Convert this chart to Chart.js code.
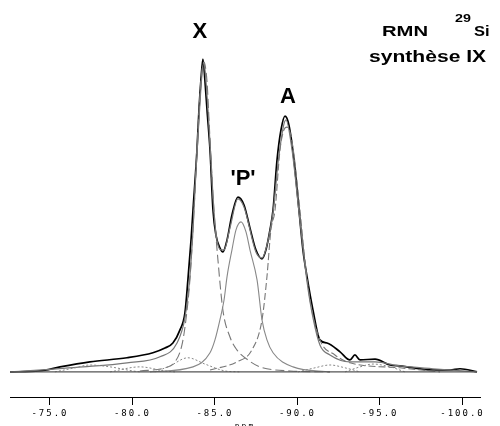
<!DOCTYPE html>
<html>
<head>
<meta charset="utf-8">
<script src="https://cdn.jsdelivr.net/npm/chart.js@4/dist/chart.umd.min.js"></script>
<style>
  body { margin: 0; background: #fff; }
  canvas { display: block; }
</style>
</head>
<body>
<canvas id="nmr" width="500" height="426"></canvas>
<script>
// chemical shift (ppm) / intensity pairs
const experimental = [
    [-72.58, 0], [-74.39, 0.3], [-75.61, 1.6], [-77.42, 3.2], [-79.67, 4.5], [-81.24, 6.1],
    [-81.97, 7.6], [-82.45, 9.2], [-82.88, 13.4], [-83.18, 18.8], [-83.36, 29.3], [-83.55, 42.0],
    [-83.67, 51.6], [-83.91, 70.7], [-84.03, 83.4], [-84.15, 93.0], [-84.27, 99.7], [-84.39, 93.0],
    [-84.52, 83.4], [-84.70, 70.7], [-84.88, 51.6], [-85.06, 43.6], [-85.30, 39.5], [-85.48, 38.2],
    [-85.73, 42.0], [-86.03, 50.0], [-86.39, 55.7], [-86.76, 53.2], [-87.12, 45.9], [-87.48, 38.9],
    [-87.85, 36.0], [-88.09, 38.9], [-88.33, 45.2], [-88.52, 51.6], [-88.76, 67.5], [-89.00, 77.1],
    [-89.24, 81.5], [-89.48, 78.7], [-89.79, 67.5], [-90.09, 51.6], [-90.33, 38.9], [-90.58, 30.3],
    [-90.94, 19.7], [-91.36, 10.2], [-91.79, 9.2], [-92.58, 6.4], [-93.18, 3.8], [-93.48, 5.4],
    [-93.79, 3.8], [-94.70, 4.1], [-95.61, 2.2], [-96.21, 1.9], [-98.21, 0.6], [-99.24, 0.6],
    [-99.85, 1.0], [-100.88, 0]
];
const fitSum = [
    [-72.58, 0], [-77.00, 1.6], [-79.67, 2.9], [-81.67, 4.8], [-82.70, 9.2], [-83.18, 17.2],
    [-83.48, 30.3], [-83.67, 45.2], [-83.85, 64.3], [-84.03, 80.3], [-84.21, 94.6], [-84.33, 98.7],
    [-84.45, 93.0], [-84.58, 83.4], [-84.76, 67.5], [-84.94, 51.0], [-85.12, 42.0], [-85.36, 38.9],
    [-85.55, 38.9], [-85.91, 45.9], [-86.39, 55.1], [-86.76, 52.5], [-87.48, 38.2], [-87.85, 36.3],
    [-88.15, 40.4], [-88.52, 51.0], [-88.88, 69.1], [-89.30, 80.3], [-89.67, 70.7], [-90.09, 51.0],
    [-90.58, 28.7], [-90.94, 17.2], [-91.36, 8.6], [-91.97, 5.4], [-93.18, 3.2], [-94.70, 3.2],
    [-96.21, 1.9], [-98.21, 1.0], [-100.88, 0]
];
const peakX = [
    [-80.45, 0.3], [-81.97, 1.3], [-82.58, 3.2], [-83.00, 8.6], [-83.24, 16.6], [-83.48, 29.3],
    [-83.73, 51.6], [-83.97, 77.1], [-84.15, 93.0], [-84.33, 98.7], [-84.52, 92.4], [-84.64, 80.3],
    [-84.76, 67.5], [-84.94, 51.6], [-85.18, 35.7], [-85.48, 19.7], [-85.91, 11.1], [-86.33, 7.0],
    [-87.00, 3.8], [-87.73, 1.6], [-89.55, 0.3], [-91.97, 0]
];
const peakP = [
    [-81.06, 0], [-83.67, 1.6], [-84.70, 6.1], [-85.00, 10.2], [-85.30, 16.6], [-85.55, 22.9],
    [-85.73, 30.3], [-86.03, 38.9], [-86.27, 45.2], [-86.58, 47.8], [-86.88, 44.6], [-87.12, 38.9],
    [-87.55, 29.3], [-87.85, 16.6], [-88.15, 10.2], [-88.52, 6.1], [-89.73, 1.6], [-91.97, 0]
];
const peakA = [
    [-84.70, 0.6], [-86.33, 3.2], [-87.24, 7.0], [-87.85, 16.6], [-88.15, 30.3], [-88.39, 45.2],
    [-88.64, 51.6], [-88.94, 70.7], [-89.18, 77.1], [-89.36, 78.0], [-89.55, 76.4], [-89.79, 69.1],
    [-90.15, 51.6], [-90.45, 35.7], [-90.76, 22.9], [-91.36, 10.2], [-92.27, 5.4], [-93.18, 2.9],
    [-96.21, 1.3], [-98.64, 0]
];
const smallPeaks = [
    [[-75.30, 0], [-76.52, 1.3], [-77.42, 2.2], [-78.64, 1.6], [-80.03, 0.3], [-80.45, 0]],
    [[-78.64, 0], [-80.45, 1.6], [-81.97, 0.3], [-82.58, 0]],
    [[-81.36, 0], [-82.27, 1.9], [-83.36, 4.5], [-84.39, 2.5], [-85.61, 0.3], [-86.52, 0]],
    [[-90.03, 0], [-91.06, 1.3], [-91.97, 2.2], [-92.88, 1.3], [-93.79, 0]],
    [[-92.88, 0], [-93.79, 1.6], [-94.58, 2.5], [-95.61, 1.6], [-96.52, 0]]
];
const baseline = [[-72.58, 0], [-100.88, 0]];

const tickValues = [-75, -80, -85, -90, -95, -100];
const peakLabels = ['X', "'P'", 'A'];
const peakLabelAt = [[-84.09, 106.4], [-86.70, 59.6], [-89.42, 85.7]];

const toXY = pts => pts.map(p => ({ x: p[0], y: p[1] }));

function line(data, color, width, dash) {
    return {
        data: toXY(data),
        showLine: true,
        borderColor: color,
        borderWidth: width,
        borderDash: dash || [],
        pointRadius: 0,
        cubicInterpolationMode: 'monotone',
        fill: false
    };
}

const datasets = [
    line(baseline, '#555', 1.2),
    ...smallPeaks.map(p => line(p, '#888', 1, [2, 2])),
    line(peakP, '#888', 1.1),
    line(peakX, '#777', 1.1, [9, 4]),
    line(peakA, '#777', 1.1, [7, 3]),
    line(fitSum, '#777', 1.2),
    line(experimental, '#000', 1.7)
];

// wide bold text, stretched sideways like the original plot
function wideText(ctx, text, x, y, sx) {
    ctx.save();
    ctx.translate(x, y);
    ctx.scale(sx, 1);
    ctx.fillText(text, 0, 0);
    ctx.restore();
}

// spaced dot-matrix style tick labels, then the labels on the plot
const textPlugin = {
    id: 'texts',
    beforeDraw(chart) {
        chart.ctx.letterSpacing = '2px';
    },
    afterDraw(chart) {
        const ctx = chart.ctx;
        const xs = chart.scales.x, ys = chart.scales.y;
        ctx.save();
        ctx.fillStyle = '#000';
        ctx.textBaseline = 'alphabetic';
        ctx.letterSpacing = '0px';
        ctx.textAlign = 'center';
        ctx.font = 'bold 22px "Liberation Sans"';
        peakLabels.forEach((t, i) => {
            ctx.fillText(t, xs.getPixelForValue(peakLabelAt[i][0]), ys.getPixelForValue(peakLabelAt[i][1]));
        });

        ctx.textAlign = 'left';
        ctx.font = 'bold 15px "Liberation Sans"';
        wideText(ctx, 'RMN', 382, 36, 1.35);
        wideText(ctx, 'Si', 474, 36, 1.1);
        ctx.font = 'bold 11px "Liberation Sans"';
        wideText(ctx, '29', 455, 22, 1.3);
        ctx.font = 'bold 17px "Liberation Sans"';
        wideText(ctx, 'synthèse IX', 369, 62, 1.24);

        ctx.font = '8px "DejaVu Sans Mono"';
        ctx.letterSpacing = '2px';
        ctx.textAlign = 'center';
        ctx.textBaseline = 'top';
        ctx.fillText('ppm', 245, 423);
        ctx.restore();
    }
};

new Chart(document.getElementById('nmr'), {
    type: 'scatter',
    data: { datasets: datasets },
    options: {
        responsive: false,
        animation: false,
        layout: { padding: { left: 10, right: 20, top: 0, bottom: 0 } },
        plugins: {
            legend: { display: false },
            tooltip: { enabled: false }
        },
        scales: {
            x: {
                type: 'linear',
                reverse: true,
                min: -101.06,
                max: -72.58,
                afterBuildTicks: scale => {
                    scale.ticks = tickValues.map(v => ({ value: v }));
                },
                afterFit: scale => { scale.height = 29; },
                grid: {
                    display: true,
                    drawOnChartArea: false,
                    drawTicks: true,
                    tickLength: 8,
                    color: '#000'
                },
                border: { display: true, color: '#000', width: 1 },
                ticks: {
                    padding: 3,
                    color: '#000',
                    maxRotation: 0,
                    font: { family: 'DejaVu Sans Mono', size: 9 },
                    callback: v => v.toFixed(1)
                }
            },
            y: {
                display: false,
                min: -8,
                max: 118.5
            }
        }
    },
    plugins: [textPlugin]
});
</script>
</body>
</html>
